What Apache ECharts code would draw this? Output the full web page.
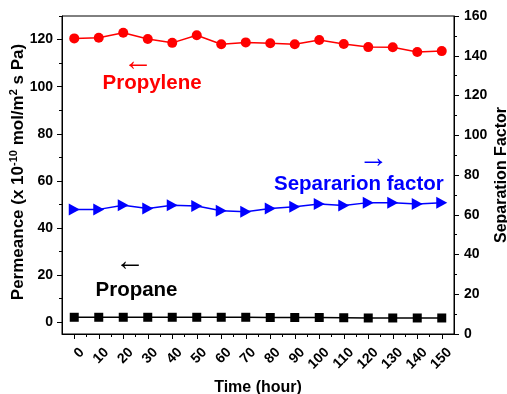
<!DOCTYPE html>
<html>
<head>
<meta charset="utf-8">
<script src="https://cdn.jsdelivr.net/npm/echarts@6/dist/echarts.min.js"></script>
<style>
html,body{margin:0;padding:0;background:#fff;}
#chart{width:507px;height:394px;}
</style>
</head>
<body>
<div id="chart"></div>
<script>
// ---- data ----
const times = [0, 10, 20, 30, 40, 50, 60, 70, 80, 90, 100, 110, 120, 130, 140, 150];
const propylene = [120.5, 120.8, 122.9, 120.2, 118.6, 121.8, 118.0, 118.8, 118.4, 118.0, 119.8, 118.1, 116.8, 116.7, 114.7, 115.1];
const propane = [2.1, 2.1, 2.1, 2.1, 2.1, 2.1, 2.1, 2.1, 2.0, 2.0, 2.0, 1.9, 1.8, 1.8, 1.8, 1.8];
const separation = [62.7, 62.7, 64.8, 63.2, 64.8, 64.4, 62.0, 61.5, 63.2, 64.0, 65.4, 64.6, 66.1, 66.1, 65.4, 66.1];
const xTickValues = [0, 10, 20, 30, 40, 50, 60, 70, 80, 90, 100, 110, 120, 130, 140, 150];
const xMinorValues = [5, 15, 25, 35, 45, 55, 65, 75, 85, 95, 105, 115, 125, 135, 145];
const leftTickValues = [0, 20, 40, 60, 80, 100, 120];
const leftMinorValues = [10, 30, 50, 70, 90, 110, 130];

const FONT = '"Liberation Sans", Arial, Helvetica, sans-serif';
const chart = echarts.init(document.getElementById('chart'), null, {renderer: 'canvas'});

const lblStyle = {color: '#000', fontFamily: FONT, fontWeight: 'bold', fontSize: 14};
const axLine = {show: true, onZero: false, lineStyle: {color: '#000', width: 1}};

const option = {
  backgroundColor: '#fff',
  animation: false,
  grid: {left: 62, right: 53, top: 16, bottom: 60, containLabel: false, outerBoundsMode: 'none',
         show: true, borderColor: '#000', borderWidth: 1, backgroundColor: 'transparent'},
  xAxis: [
    {
      type: 'value', min: -5, max: 155, position: 'bottom',
      axisLine: axLine,
      axisTick: {show: true, inside: false, length: 5, customValues: xTickValues, lineStyle: {color: '#000'}},
      axisLabel: Object.assign({show: true, rotate: 45, margin: 8.5, verticalAlign: 'top', padding: [4, 0, 0, 0], customValues: xTickValues}, lblStyle),
      splitLine: {show: false},
      name: 'Time (hour)', nameLocation: 'middle', nameGap: 46, nameMoveOverlap: false,
      nameTextStyle: {color: '#000', fontFamily: FONT, fontWeight: 'bold', fontSize: 16}
    },
    {
      type: 'value', min: -5, max: 155, position: 'bottom',
      axisLine: {show: false, onZero: false},
      axisTick: {show: true, inside: false, length: 3, customValues: xMinorValues, lineStyle: {color: '#000'}},
      axisLabel: {show: false},
      splitLine: {show: false}
    }
  ],
  yAxis: [
    {
      type: 'value', min: -5, max: 130, position: 'left',
      axisLine: axLine,
      axisTick: {show: true, inside: false, length: 5, customValues: leftTickValues, lineStyle: {color: '#000'}},
      axisLabel: Object.assign({show: true, margin: 9, customValues: leftTickValues}, lblStyle),
      splitLine: {show: false},
      name: '{a|Permeance (x 10}{s|-10}{a| mol/m}{s|2}{a| s Pa)}',
      nameLocation: 'middle', nameGap: 34, nameRotate: 90, nameMoveOverlap: false,
      nameTextStyle: {
        color: '#000', fontFamily: FONT, fontWeight: 'bold', fontSize: 17,
        padding: [0, 0, 0, 6],
        rich: {
          a: {color: '#000', fontFamily: FONT, fontWeight: 'bold', fontSize: 17, lineHeight: 20},
          s: {color: '#000', fontFamily: FONT, fontWeight: 'bold', fontSize: 11, lineHeight: 11, verticalAlign: 'top'}
        }
      }
    },
    {
      type: 'value', min: -5, max: 130, position: 'left',
      axisLine: {show: false, onZero: false},
      axisTick: {show: true, inside: false, length: 3, customValues: leftMinorValues, lineStyle: {color: '#000'}},
      axisLabel: {show: false},
      splitLine: {show: false}
    },
    {
      type: 'value', min: 0, max: 160, interval: 20, position: 'right',
      axisLine: axLine,
      axisTick: {show: true, inside: false, length: 5, lineStyle: {color: '#000'}},
      minorTick: {show: true, splitNumber: 2, length: 3, lineStyle: {color: '#000'}},
      axisLabel: Object.assign({show: true, margin: 10}, lblStyle),
      splitLine: {show: false},
      name: 'Separation Factor', nameLocation: 'middle', nameGap: 40, nameRotate: 90, nameMoveOverlap: false,
      nameTextStyle: {color: '#000', fontFamily: FONT, fontWeight: 'bold', fontSize: 16}
    }
  ],
  series: [
    {
      name: 'Propylene', type: 'line', xAxisIndex: 0, yAxisIndex: 0,
      data: times.map((t, i) => [t, propylene[i]]),
      symbol: 'circle', symbolSize: 10,
      lineStyle: {color: '#ff0000', width: 1.5},
      itemStyle: {color: '#ff0000'}
    },
    {
      name: 'Propane', type: 'line', xAxisIndex: 0, yAxisIndex: 0,
      data: times.map((t, i) => [t, propane[i]]),
      symbol: 'rect', symbolSize: 9,
      lineStyle: {color: '#000', width: 1.5},
      itemStyle: {color: '#000'}
    },
    {
      name: 'Separation factor', type: 'line', xAxisIndex: 0, yAxisIndex: 2,
      data: times.map((t, i) => [t, separation[i]]),
      symbol: 'triangle', symbolSize: [12, 11], symbolRotate: -90,
      lineStyle: {color: '#0000ff', width: 1.5},
      itemStyle: {color: '#0000ff'}
    }
  ],
  graphic: [
    {type: 'text', x: 123, y: 61.5, style: {text: '\u2190', fill: '#ff0000', font: '30px ' + FONT, verticalAlign: 'middle', align: 'left'}},
    {type: 'text', x: 102.5, y: 83.5, style: {text: 'Propylene', fill: '#ff0000', font: 'bold 20.5px ' + FONT, verticalAlign: 'middle', align: 'left'}},
    {type: 'text', x: 358.5, y: 158.7, style: {text: '\u2192', fill: '#0000ff', font: '30px ' + FONT, verticalAlign: 'middle', align: 'left'}},
    {type: 'text', x: 274, y: 184, style: {text: 'Separarion factor', fill: '#0000ff', font: 'bold 20.5px ' + FONT, verticalAlign: 'middle', align: 'left'}},
    {type: 'text', x: 115, y: 262, style: {text: '\u2190', fill: '#000', font: '30px ' + FONT, verticalAlign: 'middle', align: 'left'}},
    {type: 'text', x: 95.5, y: 290, style: {text: 'Propane', fill: '#000', font: 'bold 20.5px ' + FONT, verticalAlign: 'middle', align: 'left'}}
  ]
};
chart.setOption(option);
</script>
</body>
</html>
